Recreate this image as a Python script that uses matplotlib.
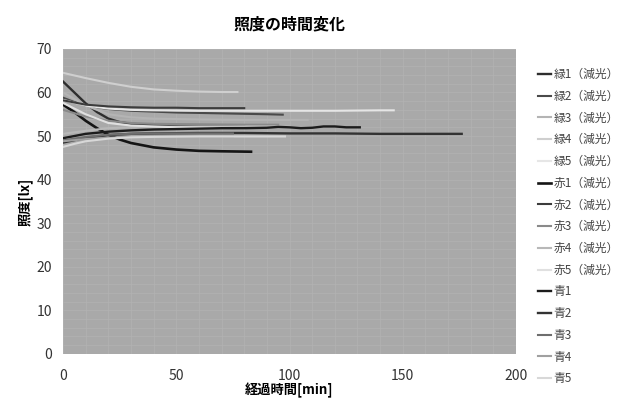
import matplotlib.pyplot as plt
import numpy as np

plt.rcParams['font.family'] = ['Noto Sans CJK JP', 'DejaVu Sans']

# series names as in legend
names = ['緑1（減光）', '緑2（減光）', '緑3（減光）', '緑4（減光）', '緑5（減光）',
         '赤1（減光）', '赤2（減光）', '赤3（減光）', '赤4（減光）', '赤5（減光）',
         '青1', '青2', '青3', '青4', '青5']

# time [min] / illuminance [lx]
g1_t = [0, 5, 10, 15, 20, 25, 30, 40, 50, 60, 70, 80]
g1_y = [62.5, 60.0, 57.5, 55.5, 54.0, 53.2, 52.8, 52.5, 52.4, 52.3, 52.3, 52.2]
g2_t = [0, 5, 10, 20, 30, 40, 50, 60, 70, 80, 90, 97]
g2_y = [58.8, 57.8, 57.0, 56.2, 55.8, 55.6, 55.4, 55.3, 55.2, 55.1, 55.0, 54.9]
g3_t = [0, 10, 20, 30, 40, 60, 80, 100, 108]
g3_y = [60.0, 57.0, 55.0, 54.3, 54.0, 53.8, 53.7, 53.7, 53.7]
g4_t = [0, 10, 20, 30, 40, 50, 60, 70, 77]
g4_y = [64.5, 63.3, 62.2, 61.3, 60.7, 60.4, 60.2, 60.1, 60.1]
g5_t = [0, 10, 20, 30, 40, 60, 80, 100, 120, 140, 146]
g5_y = [58.3, 57.0, 56.3, 56.0, 55.9, 55.8, 55.8, 55.8, 55.8, 55.9, 55.9]

r1_t = [0, 5, 10, 15, 20, 25, 30, 40, 50, 60, 70, 83]
r1_y = [57.2, 55.5, 53.5, 51.8, 50.3, 49.2, 48.4, 47.4, 46.9, 46.6, 46.5, 46.4]
r2_t = [0, 10, 20, 30, 40, 50, 60, 70, 80]
r2_y = [58.2, 57.2, 56.8, 56.6, 56.5, 56.5, 56.4, 56.4, 56.4]
r3_t = [0, 10, 20, 30, 40, 60, 80, 95]
r3_y = [56.0, 54.5, 53.5, 53.0, 52.8, 52.7, 52.6, 52.6]
r4_t = [0, 10, 20, 30, 40, 60, 80, 100]
r4_y = [50.5, 51.2, 51.8, 52.0, 52.1, 52.2, 52.2, 52.2]
r5_t = [0, 10, 20, 30, 50, 70, 80]
r5_y = [57.6, 55.0, 53.0, 52.4, 52.0, 51.9, 51.8]

b1_t = [0, 10, 20, 30, 40, 50, 60, 70, 80, 90, 95, 100, 105, 110, 115, 120, 125, 131]
b1_y = [49.5, 50.5, 51.0, 51.3, 51.5, 51.6, 51.7, 51.8, 51.8, 51.9, 52.1, 52.0, 51.8, 51.9, 52.2, 52.2, 52.0, 52.0]
b2_t = [0, 10, 20, 30, 40, 60, 80, 100, 120, 140, 160, 176]
b2_y = [48.5, 49.6, 50.2, 50.5, 50.6, 50.7, 50.7, 50.6, 50.6, 50.5, 50.5, 50.5]
b3_t = [0, 10, 20, 30, 40, 60, 75]
b3_y = [49.0, 49.8, 50.3, 50.5, 50.6, 50.6, 50.6]
b4_t = [0, 10, 20, 30, 50, 75]
b4_y = [48.8, 49.3, 49.6, 49.8, 49.9, 49.9]
b5_t = [0, 5, 10, 20, 30, 40, 60, 80, 98]
b5_y = [47.5, 48.2, 48.8, 49.4, 49.7, 49.8, 49.9, 49.9, 49.9]

series_t = [g1_t, g2_t, g3_t, g4_t, g5_t, r1_t, r2_t, r3_t, r4_t, r5_t, b1_t, b2_t, b3_t, b4_t, b5_t]
series_y = [g1_y, g2_y, g3_y, g4_y, g5_y, r1_y, r2_y, r3_y, r4_y, r5_y, b1_y, b2_y, b3_y, b4_y, b5_y]

colors = ['#2e2e2e', '#4a4a4a', '#b4b4b4', '#cfcfcf', '#e6e6e6',
          '#151515', '#3c3c3c', '#8a8a8a', '#b8b8b8', '#e0e0e0',
          '#1c1c1c', '#333333', '#6e6e6e', '#a0a0a0', '#d8d8d8']
widths = [1.7, 1.5, 1.5, 1.5, 1.5, 1.9, 1.5, 1.5, 1.5, 1.5, 1.7, 1.7, 1.5, 1.5, 1.5]

fig = plt.figure(figsize=(6.24, 4.04), dpi=100)
ax = fig.add_axes([0.101, 0.124, 0.726, 0.755])
ax.set_facecolor('#a9a9a9')

for t, y, c, w, n in zip(series_t, series_y, colors, widths, names):
    ax.plot(t, y, color=c, lw=w, label=n, zorder=3)

ax.set_xlim(0, 200)
ax.set_ylim(0, 70)
ax.set_xticks(np.arange(0, 201, 50))
ax.set_yticks(np.arange(0, 71, 10))
ax.set_xticks(np.arange(0, 201, 10), minor=True)
ax.set_yticks(np.arange(0, 71, 2), minor=True)
ax.grid(True, which='both', color='#b3b3b3', lw=0.5, zorder=0)
ax.set_axisbelow(True)
ax.tick_params(which='both', length=0, labelsize=10, colors='#333333')
ax.tick_params(axis='x', pad=11)
ax.tick_params(axis='y', pad=8)
for s in ax.spines.values():
    s.set_visible(False)

ax.set_title('照度の時間変化', fontsize=11.5, fontweight='bold', pad=14)
ax.set_xlabel('経過時間[min]', fontsize=9.5, fontweight='bold', labelpad=0)
ax.set_ylabel('照度[lx]', fontsize=9.5, fontweight='bold', labelpad=3)

ax.legend(loc='upper left', bbox_to_anchor=(1.025, 0.972), frameon=False,
          fontsize=8.5, handlelength=1.1, handletextpad=0.2, labelspacing=0.74,
          labelcolor='#444444')

fig.savefig('out.png', dpi=100)
